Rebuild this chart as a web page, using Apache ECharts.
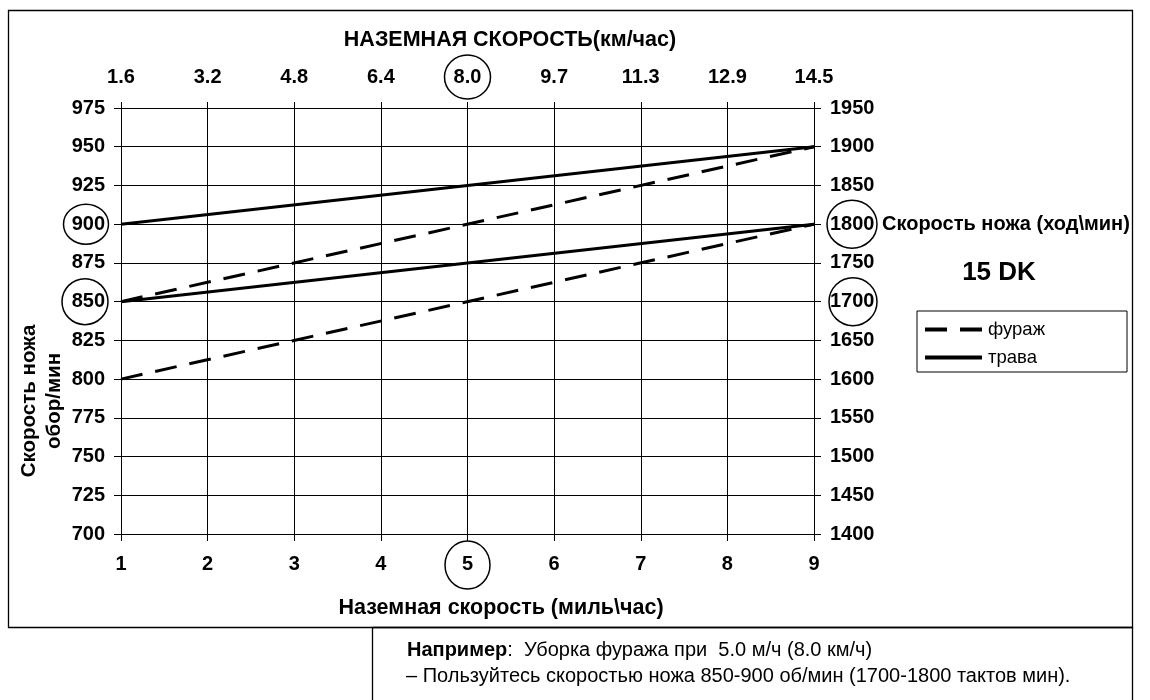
<!DOCTYPE html>
<html>
<head>
<meta charset="utf-8">
<title>15 DK - скорость ножа</title>
<script src="https://cdn.jsdelivr.net/npm/echarts@6/dist/echarts.min.js"></script>
<style>
  html, body { margin: 0; padding: 0; background: #fff; }
  #chart { width: 1150px; height: 700px; }
</style>
</head>
<body>
<div id="chart"></div>
<script>
// ground speed, mph (bottom axis) and the matching km/h labels (top axis)
const mphMin = 1, mphMax = 9;
const kmhLabels = ['1.6', '3.2', '4.8', '6.4', '8.0', '9.7', '11.3', '12.9', '14.5'];

// knife speed: rpm on the left, strokes/min on the right
const rpmMin = 700, rpmMax = 975, rpmStep = 25;
const spmMin = 1400, spmMax = 1950, spmStep = 50;

// series: [mph, rpm]
const forageUpper = [[1, 850], [9, 950]];
const forageLower = [[1, 800], [9, 900]];
const grassUpper = [[1, 900], [9, 950]];
const grassLower = [[1, 850], [9, 900]];

// example values circled on the axes
const circledMph = 5;
const circledRpm = [900, 850];
const circledSpm = [1800, 1700];

const FONT = '"Liberation Sans", Arial, sans-serif';
const tickLabel = { color: '#000', fontFamily: FONT, fontWeight: 'bold', fontSize: 20 };
const blackLine = { color: '#000', width: 1 };

const chart = echarts.init(document.getElementById('chart'));

function lineSeries(name, data, dashed) {
  return {
    name: name,
    type: 'line',
    data: data,
    symbol: 'none',
    silent: true,
    xAxisIndex: 0,
    yAxisIndex: 0,
    lineStyle: { color: '#000', width: 3, type: dashed ? [22, 13] : 'solid' },
    itemStyle: { color: '#000' }
  };
}

chart.setOption({
  animation: false,
  backgroundColor: '#fff',
  grid: { left: 121, right: 336, top: 108, bottom: 166 },
  legend: {
    data: ['фураж', 'трава'],
    orient: 'vertical',
    left: 917,
    top: 311,
    padding: [9, 82, 5, 6],
    itemWidth: 57,
    itemHeight: 14,
    itemGap: 9,
    borderColor: '#000',
    borderWidth: 1,
    borderRadius: 0,
    itemStyle: { opacity: 0 },
    lineStyle: { width: 4 },
    textStyle: { color: '#000', fontFamily: FONT, fontSize: 18.5, padding: [0, 0, 0, 1] }
  },
  xAxis: [
    {
      type: 'value', position: 'bottom',
      min: mphMin, max: mphMax, interval: 1,
      axisLine: { show: true, onZero: false, lineStyle: blackLine },
      axisTick: { show: true, inside: false, length: 7, lineStyle: blackLine },
      axisLabel: Object.assign({ margin: 20 }, tickLabel),
      splitLine: { show: true, lineStyle: blackLine }
    },
    {
      type: 'value', position: 'top',
      min: mphMin, max: mphMax, interval: 1,
      axisLine: { show: true, onZero: false, lineStyle: blackLine },
      axisTick: { show: true, inside: false, length: 6, lineStyle: blackLine },
      axisLabel: Object.assign({ margin: 21, formatter: v => kmhLabels[Math.round(v) - mphMin] }, tickLabel),
      splitLine: { show: false }
    }
  ],
  yAxis: [
    {
      type: 'value', position: 'left',
      min: rpmMin, max: rpmMax, interval: rpmStep,
      axisLine: { show: true, onZero: false, lineStyle: blackLine },
      axisTick: { show: true, inside: false, length: 7, lineStyle: blackLine },
      axisLabel: Object.assign({ margin: 16, formatter: v => String(v) }, tickLabel),
      splitLine: { show: true, lineStyle: blackLine }
    },
    {
      type: 'value', position: 'right',
      min: spmMin, max: spmMax, interval: spmStep,
      axisLine: { show: true, onZero: false, lineStyle: blackLine },
      axisTick: { show: true, inside: false, length: 7, lineStyle: blackLine },
      axisLabel: Object.assign({ margin: 16, formatter: v => String(v) }, tickLabel),
      splitLine: { show: false }
    }
  ],
  series: [
    lineSeries('фураж', forageUpper, true),
    lineSeries('фураж', forageLower, true),
    lineSeries('трава', grassUpper, false),
    lineSeries('трава', grassLower, false)
  ]
});

// annotations: borders, titles, circles round the example values
const ring = (cx, cy, rx, ry) => ({
  type: 'ellipse',
  shape: { cx: cx, cy: cy, rx: rx, ry: ry },
  style: { fill: 'none', stroke: '#000', lineWidth: 1.5 },
  z: 10
});
const label = (x, y, text, size, weight, align) => ({
  type: 'text', x: x, y: y, z: 10,
  style: {
    text: text, fontFamily: FONT, fontSize: size, fontWeight: weight,
    textFill: '#000', textAlign: align || 'center', textVerticalAlign: 'middle'
  }
});

const xMph = chart.convertToPixel({ xAxisIndex: 0 }, circledMph);
const rpmY = circledRpm.map(v => chart.convertToPixel({ yAxisIndex: 0 }, v));
const spmY = circledSpm.map(v => chart.convertToPixel({ yAxisIndex: 1 }, v));

const graphics = [
  { type: 'rect', shape: { x: 8.5, y: 10.5, width: 1124, height: 617 },
    style: { fill: 'none', stroke: '#000', lineWidth: 1.3 } },
  { type: 'rect', shape: { x: 372.5, y: 627.5, width: 760, height: 90 },
    style: { fill: 'none', stroke: '#000', lineWidth: 1.3 } },
  label(510, 40, 'НАЗЕМНАЯ СКОРОСТЬ(км/час)', 21.5, 'bold'),
  label(501, 608, 'Наземная скорость (миль\\час)', 21.5, 'bold'),
  label(882, spmY[0], 'Скорость ножа (ход\\мин)', 20, 'bold', 'left'),
  label(999, 273, '15 DK', 26, 'bold'),
  {
    type: 'text', x: 42, y: 401, rotation: Math.PI / 2, z: 10,
    style: {
      text: 'Скорость ножа\nобор/мин', fontFamily: FONT, fontSize: 20.5, fontWeight: 'bold',
      lineHeight: 25, textFill: '#000', textAlign: 'center', textVerticalAlign: 'middle'
    }
  },
  {
    type: 'text', x: 407, y: 650, z: 10,
    style: {
      text: '{b|Например}:  Уборка фуража при  5.0 м/ч (8.0 км/ч)',
      fontFamily: FONT, fontSize: 20, textFill: '#000',
      textAlign: 'left', textVerticalAlign: 'middle',
      rich: { b: { fontFamily: FONT, fontSize: 20, fontWeight: 'bold', textFill: '#000' } }
    }
  },
  label(406, 676, '– Пользуйтесь скоростью ножа 850-900 об/мин (1700-1800 тактов мин).', 20, 'normal', 'left'),
  ring(xMph, 77, 23, 22),
  ring(xMph, 565, 22.5, 24),
  ring(86, rpmY[0], 22.5, 20),
  ring(85, rpmY[1], 23, 23),
  ring(852, spmY[0], 25, 24),
  ring(853, spmY[1], 24, 24)
];

chart.setOption({ graphic: graphics });
</script>
</body>
</html>
